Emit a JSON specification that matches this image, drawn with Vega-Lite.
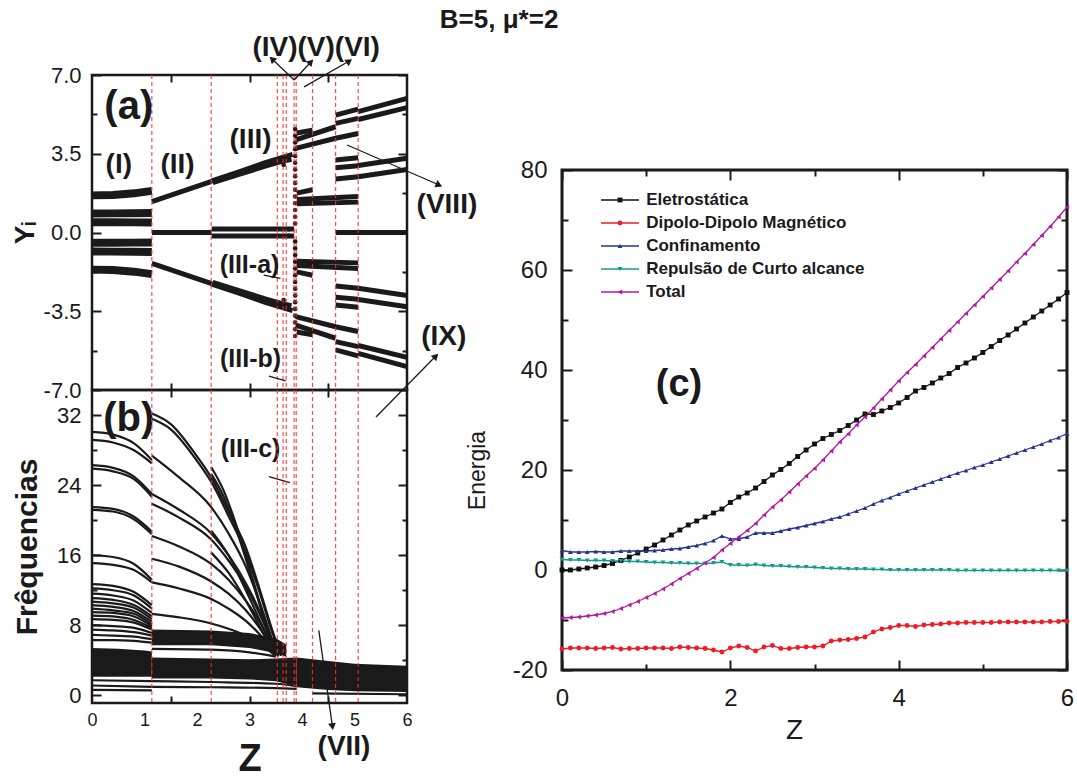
{
"$schema":"https://vega.github.io/schema/vega-lite/v6.json",
"background":"white",
"padding":{"left":9,"top":6,"right":5,"bottom":3},
"title":{"text":"B=5, μ*=2","fontSize":26,"fontWeight":"bold","font":"Liberation Sans","anchor":"start","dx":430,"offset":0,"color":"#1a1a1a"},
"config":{
 "font":"Liberation Sans",
 "view":{"stroke":"#1a1a1a","strokeWidth":2.5},
 "axis":{"domain":false,"grid":false,"labelFont":"Liberation Sans","titleFont":"Liberation Sans","labelColor":"#1a1a1a","tickColor":"#1a1a1a","titleColor":"#1a1a1a","tickWidth":2,"labelOverlap":false,"labelFlush":false}
},
"datasets":{
 "vlines":[{"z":1.14},{"z":2.27},{"z":3.53},{"z":3.64},{"z":3.7},{"z":3.85},{"z":3.89},{"z":4.2},{"z":4.64},{"z":5.07}],
 "aThick":[
  {"id":"t1","z":0,"y":1.65},{"id":"t1","z":0.4,"y":1.67},{"id":"t1","z":0.8,"y":1.74},{"id":"t1","z":1.14,"y":1.85},
  {"id":"t2","z":0,"y":0.84},{"id":"t2","z":0.4,"y":0.85},{"id":"t2","z":0.8,"y":0.86},{"id":"t2","z":1.14,"y":0.87},
  {"id":"t3","z":0,"y":0.46},{"id":"t3","z":0.4,"y":0.46},{"id":"t3","z":0.8,"y":0.45},{"id":"t3","z":1.14,"y":0.44},
  {"id":"t4","z":0,"y":-1.65},{"id":"t4","z":0.4,"y":-1.67},{"id":"t4","z":0.8,"y":-1.74},{"id":"t4","z":1.14,"y":-1.85},
  {"id":"t5","z":0,"y":-0.84},{"id":"t5","z":0.4,"y":-0.85},{"id":"t5","z":0.8,"y":-0.86},{"id":"t5","z":1.14,"y":-0.87},
  {"id":"t6","z":0,"y":-0.46},{"id":"t6","z":0.4,"y":-0.46},{"id":"t6","z":0.8,"y":-0.45},{"id":"t6","z":1.14,"y":-0.44}
 ],
 "aLine":[
  {"id":"L1","z":1.14,"y":1.37},{"id":"L1","z":2.28,"y":2.27},
  {"id":"L1m","z":1.14,"y":-1.37},{"id":"L1m","z":2.28,"y":-2.27},
  {"id":"L0","z":1.14,"y":0},{"id":"L0","z":2.28,"y":0},
  {"id":"L2","z":2.28,"y":2.3},{"id":"L2","z":2.8,"y":2.7},{"id":"L2","z":3.3,"y":3.1},{"id":"L2","z":3.6,"y":3.32},{"id":"L2","z":3.82,"y":3.47},
  {"id":"L2b","z":2.3,"y":2.22},{"id":"L2b","z":2.8,"y":2.58},{"id":"L2b","z":3.3,"y":2.95},{"id":"L2b","z":3.6,"y":3.15},{"id":"L2b","z":3.8,"y":3.25},
  {"id":"L2m","z":2.28,"y":-2.3},{"id":"L2m","z":2.8,"y":-2.7},{"id":"L2m","z":3.3,"y":-3.1},{"id":"L2m","z":3.6,"y":-3.32},{"id":"L2m","z":3.82,"y":-3.47},
  {"id":"L2bm","z":2.3,"y":-2.22},{"id":"L2bm","z":2.8,"y":-2.58},{"id":"L2bm","z":3.3,"y":-2.95},{"id":"L2bm","z":3.6,"y":-3.15},{"id":"L2bm","z":3.8,"y":-3.25},
  {"id":"L3","z":2.28,"y":0.16},{"id":"L3","z":3.85,"y":0.16},
  {"id":"L3m","z":2.28,"y":-0.16},{"id":"L3m","z":3.85,"y":-0.16},
  {"id":"B1","z":3.9,"y":4.42},{"id":"B1","z":4.2,"y":4.55},
  {"id":"B1m","z":3.9,"y":-4.42},{"id":"B1m","z":4.2,"y":-4.55},
  {"id":"B2","z":3.88,"y":4.12},{"id":"B2","z":4.64,"y":4.7},
  {"id":"B2m","z":3.88,"y":-4.12},{"id":"B2m","z":4.64,"y":-4.7},
  {"id":"B3","z":3.88,"y":3.74},{"id":"B3","z":4.64,"y":4.19},{"id":"B3","z":5.07,"y":4.4},
  {"id":"B3m","z":3.88,"y":-3.74},{"id":"B3m","z":4.64,"y":-4.19},{"id":"B3m","z":5.07,"y":-4.4},
  {"id":"B4a","z":4.64,"y":5.22},{"id":"B4a","z":5.07,"y":5.48},
  {"id":"B4am","z":4.64,"y":-5.22},{"id":"B4am","z":5.07,"y":-5.48},
  {"id":"B4b","z":4.64,"y":4.85},{"id":"B4b","z":5.07,"y":5.07},
  {"id":"B4bm","z":4.64,"y":-4.85},{"id":"B4bm","z":5.07,"y":-5.07},
  {"id":"B5a","z":5.07,"y":5.37},{"id":"B5a","z":6,"y":5.96},
  {"id":"B5am","z":5.07,"y":-5.37},{"id":"B5am","z":6,"y":-5.96},
  {"id":"B5b","z":5.07,"y":5.02},{"id":"B5b","z":6,"y":5.55},
  {"id":"B5bm","z":5.07,"y":-5.02},{"id":"B5bm","z":6,"y":-5.55},
  {"id":"B6a","z":4.64,"y":3.22},{"id":"B6a","z":5.07,"y":3.32},
  {"id":"B6am","z":4.64,"y":-3.22},{"id":"B6am","z":5.07,"y":-3.32},
  {"id":"B6b","z":4.64,"y":2.88},{"id":"B6b","z":5.07,"y":2.97},
  {"id":"B6bm","z":4.64,"y":-2.88},{"id":"B6bm","z":5.07,"y":-2.97},
  {"id":"B6c","z":4.64,"y":2.38},{"id":"B6c","z":5.07,"y":2.48},
  {"id":"B6cm","z":4.64,"y":-2.38},{"id":"B6cm","z":5.07,"y":-2.48},
  {"id":"B7a","z":5.07,"y":2.98},{"id":"B7a","z":6,"y":3.3},
  {"id":"B7am","z":5.07,"y":-2.98},{"id":"B7am","z":6,"y":-3.3},
  {"id":"B7b","z":5.07,"y":2.48},{"id":"B7b","z":6,"y":2.8},
  {"id":"B7bm","z":5.07,"y":-2.48},{"id":"B7bm","z":6,"y":-2.8},
  {"id":"B8a","z":3.9,"y":1.75},{"id":"B8a","z":4.2,"y":1.9},
  {"id":"B8am","z":3.9,"y":-1.75},{"id":"B8am","z":4.2,"y":-1.9},
  {"id":"B8b","z":3.9,"y":1.47},{"id":"B8b","z":5.07,"y":1.6},
  {"id":"B8bm","z":3.9,"y":-1.47},{"id":"B8bm","z":5.07,"y":-1.6},
  {"id":"B8c","z":3.9,"y":1.28},{"id":"B8c","z":5.07,"y":1.35},
  {"id":"B8cm","z":3.9,"y":-1.28},{"id":"B8cm","z":5.07,"y":-1.35},
  {"id":"Z0","z":4.64,"y":0},{"id":"Z0","z":6,"y":0}
 ],
 "aDots":[
  {"z":3.87,"y":4.6},{"z":3.87,"y":4.3},{"z":3.87,"y":4.0},{"z":3.87,"y":3.7},{"z":3.87,"y":3.4},{"z":3.87,"y":3.1},{"z":3.87,"y":2.8},{"z":3.87,"y":2.5},{"z":3.87,"y":2.2},{"z":3.87,"y":1.9},{"z":3.87,"y":1.6},{"z":3.87,"y":1.3},{"z":3.87,"y":1.0},{"z":3.87,"y":0.7},{"z":3.87,"y":0.4},
  {"z":3.87,"y":-4.6},{"z":3.87,"y":-4.3},{"z":3.87,"y":-4.0},{"z":3.87,"y":-3.7},{"z":3.87,"y":-3.4},{"z":3.87,"y":-3.1},{"z":3.87,"y":-2.8},{"z":3.87,"y":-2.5},{"z":3.87,"y":-2.2},{"z":3.87,"y":-1.9},{"z":3.87,"y":-1.6},{"z":3.87,"y":-1.3},{"z":3.87,"y":-1.0},{"z":3.87,"y":-0.7},{"z":3.87,"y":-0.4},
  {"z":3.6,"y":3.3},{"z":3.65,"y":3.0},{"z":3.7,"y":3.35},{"z":3.6,"y":-3.3},{"z":3.65,"y":-3.0},{"z":3.7,"y":-3.35},{"z":3.75,"y":0.15},{"z":3.75,"y":-0.15}
 ],
 "arrA":[
  {"z1":3.85,"y1":6.78,"z2":3.43,"y2":7.71},
  {"z1":3.85,"y1":6.78,"z2":4.17,"y2":7.58},
  {"z1":4.04,"y1":6.47,"z2":4.9,"y2":7.62},
  {"z1":4.86,"y1":3.89,"z2":6.61,"y2":2.11},
  {"z1":5.41,"y1":-8.2,"z2":6.55,"y2":-5.49},
  {"z1":3.27,"y1":-1.89,"z2":3.59,"y2":-2.04},
  {"z1":3.37,"y1":-6.38,"z2":3.69,"y2":-6.59}
 ],
 "aText28":[
  {"t":"(I)","z":0.51,"y":3.0},{"t":"(II)","z":1.63,"y":3.0},{"t":"(III)","z":3.02,"y":4.11},
  {"t":"(IV)(V)(VI)","z":4.27,"y":8.2},{"t":"(VIII)","z":6.76,"y":1.22},{"t":"(IX)","z":6.7,"y":-4.63}
 ],
 "aText26":[{"t":"(III-a)","z":3.0,"y":-1.44},{"t":"(III-b)","z":3.02,"y":-5.6}],
 "bBand":[
  {"id":"b1","z":0,"lo":2.1,"hi":5.4},{"id":"b1","z":0.5,"lo":2.1,"hi":5.3},{"id":"b1","z":1.0,"lo":2.1,"hi":5.1},{"id":"b1","z":1.14,"lo":2.1,"hi":5.0},
  {"id":"b2","z":1.14,"lo":5.7,"hi":7.5},{"id":"b2","z":2.27,"lo":5.7,"hi":7.4},{"id":"b2","z":3.0,"lo":5.4,"hi":7.1},{"id":"b2","z":3.5,"lo":4.8,"hi":6.5},{"id":"b2","z":3.7,"lo":4.4,"hi":5.8},
  {"id":"b3","z":1.14,"lo":1.9,"hi":4.3},{"id":"b3","z":2.27,"lo":1.9,"hi":4.2},{"id":"b3","z":3.0,"lo":1.8,"hi":4.1},{"id":"b3","z":3.5,"lo":1.6,"hi":4.2},{"id":"b3","z":3.9,"lo":1.0,"hi":4.3},
  {"id":"b4","z":3.9,"lo":0.9,"hi":4.3},{"id":"b4","z":4.5,"lo":0.6,"hi":3.9},{"id":"b4","z":5.0,"lo":0.45,"hi":3.6},{"id":"b4","z":6,"lo":0.35,"hi":3.35}
 ],
 "bLines":[
  {"id":"r1","z":0,"f":30.1},{"id":"r1","z":0.4,"f":29.8},{"id":"r1","z":0.8,"f":28.8},{"id":"r1","z":1.14,"f":26.9},
  {"id":"r2","z":0,"f":29.2},{"id":"r2","z":0.4,"f":28.9},{"id":"r2","z":0.8,"f":28.0},{"id":"r2","z":1.14,"f":26.5},
  {"id":"r3","z":0,"f":26.3},{"id":"r3","z":0.4,"f":26.0},{"id":"r3","z":0.8,"f":25.0},{"id":"r3","z":1.14,"f":23.0},
  {"id":"r4","z":0,"f":25.9},{"id":"r4","z":0.4,"f":25.6},{"id":"r4","z":0.8,"f":24.7},{"id":"r4","z":1.14,"f":22.7},
  {"id":"r5","z":0,"f":21.5},{"id":"r5","z":0.4,"f":21.3},{"id":"r5","z":0.8,"f":20.4},{"id":"r5","z":1.14,"f":18.7},
  {"id":"r5b","z":0,"f":21.2},{"id":"r5b","z":0.4,"f":21.0},{"id":"r5b","z":0.8,"f":20.1},{"id":"r5b","z":1.14,"f":18.4},
  {"id":"r6","z":0,"f":16.0},{"id":"r6","z":0.4,"f":15.8},{"id":"r6","z":0.8,"f":15.0},{"id":"r6","z":1.14,"f":13.2},
  {"id":"r7","z":0,"f":15.1},{"id":"r7","z":0.4,"f":14.9},{"id":"r7","z":0.8,"f":14.3},{"id":"r7","z":1.14,"f":12.9},
  {"id":"r8","z":0,"f":12.7},{"id":"r8","z":0.4,"f":12.5},{"id":"r8","z":0.8,"f":11.8},{"id":"r8","z":1.14,"f":10.3},
  {"id":"r9","z":0,"f":12.2},{"id":"r9","z":0.4,"f":12.0},{"id":"r9","z":0.8,"f":11.4},{"id":"r9","z":1.14,"f":9.9},
  {"id":"r10","z":0,"f":11.6},{"id":"r10","z":0.4,"f":11.4},{"id":"r10","z":0.8,"f":10.8},{"id":"r10","z":1.14,"f":9.4},
  {"id":"r11","z":0,"f":11.1},{"id":"r11","z":0.4,"f":10.9},{"id":"r11","z":0.8,"f":10.3},{"id":"r11","z":1.14,"f":9.0},
  {"id":"r12","z":0,"f":10.7},{"id":"r12","z":0.4,"f":10.5},{"id":"r12","z":0.8,"f":10.0},{"id":"r12","z":1.14,"f":8.7},
  {"id":"r13","z":0,"f":10.3},{"id":"r13","z":0.4,"f":10.1},{"id":"r13","z":0.8,"f":9.6},{"id":"r13","z":1.14,"f":8.4},
  {"id":"r14","z":0,"f":9.9},{"id":"r14","z":0.4,"f":9.7},{"id":"r14","z":0.8,"f":9.3},{"id":"r14","z":1.14,"f":8.1},
  {"id":"r15","z":0,"f":9.5},{"id":"r15","z":0.4,"f":9.4},{"id":"r15","z":0.8,"f":9.0},{"id":"r15","z":1.14,"f":7.9},
  {"id":"r16","z":0,"f":9.1},{"id":"r16","z":0.4,"f":9.0},{"id":"r16","z":0.8,"f":8.6},{"id":"r16","z":1.14,"f":7.7},
  {"id":"r17","z":0,"f":8.7},{"id":"r17","z":0.4,"f":8.6},{"id":"r17","z":0.8,"f":8.3},{"id":"r17","z":1.14,"f":7.5},
  {"id":"r18","z":0,"f":8.0},{"id":"r18","z":0.4,"f":7.9},{"id":"r18","z":0.8,"f":7.7},{"id":"r18","z":1.14,"f":7.1},
  {"id":"r19","z":0,"f":7.5},{"id":"r19","z":0.4,"f":7.4},{"id":"r19","z":0.8,"f":7.2},{"id":"r19","z":1.14,"f":6.8},
  {"id":"r20","z":0,"f":6.9},{"id":"r20","z":0.4,"f":6.8},{"id":"r20","z":0.8,"f":6.7},{"id":"r20","z":1.14,"f":6.4},
  {"id":"r21","z":0,"f":6.3},{"id":"r21","z":0.4,"f":6.3},{"id":"r21","z":0.8,"f":6.2},{"id":"r21","z":1.14,"f":6.0},
  {"id":"s1","z":1.14,"f":32.2},{"id":"s1","z":1.5,"f":31.0},{"id":"s1","z":2.0,"f":27.3},{"id":"s1","z":2.27,"f":24.9},{"id":"s1","z":2.6,"f":21.0},{"id":"s1","z":2.93,"f":16.9},{"id":"s1","z":3.2,"f":12.0},{"id":"s1","z":3.43,"f":7.5},{"id":"s1","z":3.6,"f":4.6},
  {"id":"s2","z":1.14,"f":31.6},{"id":"s2","z":1.5,"f":30.4},{"id":"s2","z":2.0,"f":26.8},{"id":"s2","z":2.27,"f":24.4},{"id":"s2","z":2.6,"f":20.5},{"id":"s2","z":2.93,"f":16.3},{"id":"s2","z":3.2,"f":11.6},{"id":"s2","z":3.43,"f":7.2},{"id":"s2","z":3.6,"f":4.5},
  {"id":"s3","z":1.14,"f":27.4},{"id":"s3","z":1.66,"f":24.9},{"id":"s3","z":2.27,"f":21.5},{"id":"s3","z":2.6,"f":18.5},{"id":"s3","z":2.93,"f":14.7},{"id":"s3","z":3.2,"f":10.5},{"id":"s3","z":3.5,"f":5.0},
  {"id":"s4","z":1.14,"f":23.0},{"id":"s4","z":1.66,"f":21.2},{"id":"s4","z":2.27,"f":18.5},{"id":"s4","z":2.6,"f":16.0},{"id":"s4","z":2.93,"f":12.8},{"id":"s4","z":3.2,"f":9.5},{"id":"s4","z":3.5,"f":5.0},
  {"id":"s5","z":1.14,"f":21.9},{"id":"s5","z":1.66,"f":20.3},{"id":"s5","z":2.27,"f":17.8},{"id":"s5","z":2.6,"f":15.4},{"id":"s5","z":2.93,"f":12.4},{"id":"s5","z":3.2,"f":9.2},{"id":"s5","z":3.5,"f":4.9},
  {"id":"s6","z":1.14,"f":18.2},{"id":"s6","z":1.66,"f":17.0},{"id":"s6","z":2.27,"f":15.0},{"id":"s6","z":2.6,"f":13.2},{"id":"s6","z":2.93,"f":10.8},{"id":"s6","z":3.2,"f":8.3},{"id":"s6","z":3.5,"f":4.8},
  {"id":"s7","z":1.14,"f":15.6},{"id":"s7","z":1.66,"f":14.7},{"id":"s7","z":2.27,"f":13.0},{"id":"s7","z":2.6,"f":11.6},{"id":"s7","z":2.93,"f":9.7},{"id":"s7","z":3.2,"f":7.6},{"id":"s7","z":3.5,"f":4.7},
  {"id":"s8","z":1.14,"f":12.9},{"id":"s8","z":1.66,"f":12.2},{"id":"s8","z":2.27,"f":11.0},{"id":"s8","z":2.6,"f":9.9},{"id":"s8","z":2.93,"f":8.5},{"id":"s8","z":3.2,"f":6.9},{"id":"s8","z":3.5,"f":4.6},
  {"id":"s9","z":1.14,"f":9.3},{"id":"s9","z":1.66,"f":8.9},{"id":"s9","z":2.27,"f":8.2},{"id":"s9","z":2.6,"f":7.6},{"id":"s9","z":2.93,"f":6.8},{"id":"s9","z":3.2,"f":5.8},{"id":"s9","z":3.5,"f":4.5},
  {"id":"u1","z":2.27,"f":26.1},{"id":"u1","z":2.5,"f":23.5},{"id":"u1","z":2.8,"f":18.5},{"id":"u1","z":3.1,"f":12.5},{"id":"u1","z":3.35,"f":7.5},{"id":"u1","z":3.55,"f":4.5},
  {"id":"u2","z":2.27,"f":25.3},{"id":"u2","z":2.5,"f":22.8},{"id":"u2","z":2.8,"f":18.0},{"id":"u2","z":3.1,"f":12.2},{"id":"u2","z":3.35,"f":7.3},{"id":"u2","z":3.55,"f":4.4},
  {"id":"u3","z":2.27,"f":18.8},{"id":"u3","z":2.6,"f":16.0},{"id":"u3","z":2.93,"f":12.0},{"id":"u3","z":3.2,"f":8.5},{"id":"u3","z":3.5,"f":4.6},
  {"id":"u4","z":2.27,"f":16.3},{"id":"u4","z":2.6,"f":14.0},{"id":"u4","z":2.93,"f":10.8},{"id":"u4","z":3.2,"f":7.8},{"id":"u4","z":3.5,"f":4.5},
  {"id":"w1","z":0,"f":1.7},{"id":"w1","z":1.14,"f":1.6},{"id":"w1","z":2.27,"f":1.5},{"id":"w1","z":3.5,"f":1.3},{"id":"w1","z":3.9,"f":1.0},
  {"id":"w2","z":0,"f":1.1},{"id":"w2","z":1.14,"f":0.95},{"id":"w2","z":2.27,"f":0.9},{"id":"w2","z":3.5,"f":0.8},{"id":"w2","z":3.9,"f":0.7},
  {"id":"w3","z":0,"f":0.6},{"id":"w3","z":1.14,"f":0.55},
  {"id":"w4","z":4.2,"f":0.2},{"id":"w4","z":6,"f":0.1},
  {"id":"x1","z":1.14,"f":5.3},{"id":"x1","z":2.27,"f":5.2},{"id":"x1","z":3.0,"f":4.9},{"id":"x1","z":3.5,"f":4.4}
 ],
 "arrB":[{"z1":4.32,"y1":7.4,"z2":4.58,"y2":-3.6},{"z1":3.37,"y1":25.0,"z2":3.77,"y2":24.3}],
 "serieNames":[{"k":"E","serie":"Eletrostática"},{"k":"D","serie":"Dipolo-Dipolo Magnético"},{"k":"C","serie":"Confinamento"},{"k":"R","serie":"Repulsão de Curto alcance"},{"k":"T","serie":"Total"}],
 "energy":[
  {"z":0.0,"E":0.0,"D":-15.8,"C":3.9,"R":2.1,"T":-9.6},
  {"z":0.1,"E":0.0,"D":-15.6,"C":3.6,"R":2.0,"T":-9.5},
  {"z":0.2,"E":0.2,"D":-15.6,"C":3.6,"R":2.0,"T":-9.4},
  {"z":0.3,"E":0.4,"D":-15.6,"C":3.6,"R":1.9,"T":-9.2},
  {"z":0.4,"E":0.6,"D":-15.7,"C":3.7,"R":1.9,"T":-9.0},
  {"z":0.5,"E":0.9,"D":-15.6,"C":3.6,"R":1.9,"T":-8.7},
  {"z":0.6,"E":1.3,"D":-15.5,"C":3.6,"R":1.8,"T":-8.3},
  {"z":0.7,"E":1.9,"D":-15.8,"C":3.8,"R":1.8,"T":-7.7},
  {"z":0.8,"E":2.6,"D":-15.7,"C":3.8,"R":1.7,"T":-7.0},
  {"z":0.9,"E":3.4,"D":-15.7,"C":3.8,"R":1.7,"T":-6.3},
  {"z":1.0,"E":4.2,"D":-15.6,"C":3.8,"R":1.6,"T":-5.5},
  {"z":1.1,"E":5.0,"D":-15.6,"C":3.9,"R":1.5,"T":-4.7},
  {"z":1.2,"E":6.0,"D":-15.6,"C":4.0,"R":1.5,"T":-3.8},
  {"z":1.3,"E":7.0,"D":-15.7,"C":4.2,"R":1.4,"T":-2.8},
  {"z":1.4,"E":8.0,"D":-15.4,"C":4.3,"R":1.4,"T":-1.7},
  {"z":1.5,"E":9.0,"D":-15.5,"C":4.6,"R":1.3,"T":-0.7},
  {"z":1.6,"E":9.8,"D":-15.6,"C":4.9,"R":1.3,"T":0.3},
  {"z":1.7,"E":10.6,"D":-15.7,"C":5.3,"R":1.3,"T":1.4},
  {"z":1.8,"E":11.4,"D":-16.0,"C":5.9,"R":1.4,"T":2.5},
  {"z":1.9,"E":12.2,"D":-16.4,"C":6.8,"R":1.6,"T":4.0},
  {"z":2.0,"E":13.5,"D":-15.6,"C":6.2,"R":1.0,"T":5.3},
  {"z":2.1,"E":14.6,"D":-15.2,"C":6.2,"R":1.0,"T":6.6},
  {"z":2.2,"E":15.4,"D":-15.5,"C":6.6,"R":0.9,"T":7.9},
  {"z":2.3,"E":16.4,"D":-16.2,"C":7.4,"R":1.1,"T":9.3},
  {"z":2.4,"E":17.7,"D":-15.4,"C":7.4,"R":0.9,"T":11.0},
  {"z":2.5,"E":19.0,"D":-15.1,"C":7.4,"R":0.8,"T":12.6},
  {"z":2.6,"E":20.1,"D":-15.7,"C":7.8,"R":0.8,"T":14.0},
  {"z":2.7,"E":21.3,"D":-15.7,"C":8.2,"R":0.7,"T":15.6},
  {"z":2.8,"E":22.7,"D":-15.5,"C":8.5,"R":0.6,"T":17.2},
  {"z":2.9,"E":24.0,"D":-15.4,"C":8.9,"R":0.6,"T":18.8},
  {"z":3.0,"E":25.2,"D":-15.4,"C":9.3,"R":0.5,"T":20.3},
  {"z":3.1,"E":26.3,"D":-15.2,"C":9.7,"R":0.4,"T":22.0},
  {"z":3.2,"E":27.1,"D":-14.2,"C":10.2,"R":0.3,"T":23.8},
  {"z":3.3,"E":27.9,"D":-14.0,"C":10.6,"R":0.3,"T":25.6},
  {"z":3.4,"E":28.9,"D":-13.9,"C":11.2,"R":0.2,"T":27.2},
  {"z":3.5,"E":30.0,"D":-13.7,"C":11.8,"R":0.2,"T":29.0},
  {"z":3.6,"E":31.2,"D":-13.4,"C":12.4,"R":0.2,"T":30.6},
  {"z":3.7,"E":31.1,"D":-12.4,"C":13.2,"R":0.1,"T":32.4},
  {"z":3.8,"E":31.8,"D":-11.8,"C":13.9,"R":0.1,"T":34.2},
  {"z":3.9,"E":32.5,"D":-11.5,"C":14.5,"R":0.0,"T":36.0},
  {"z":4.0,"E":33.4,"D":-11.1,"C":15.2,"R":0.0,"T":37.8},
  {"z":4.1,"E":34.5,"D":-11.1,"C":15.8,"R":0.0,"T":39.5},
  {"z":4.2,"E":35.8,"D":-11.3,"C":16.4,"R":0.0,"T":41.1},
  {"z":4.3,"E":36.5,"D":-11.0,"C":17.0,"R":0.0,"T":42.8},
  {"z":4.4,"E":37.4,"D":-10.9,"C":17.6,"R":0.0,"T":44.5},
  {"z":4.5,"E":38.4,"D":-10.8,"C":18.2,"R":0.0,"T":46.2},
  {"z":4.6,"E":39.3,"D":-10.6,"C":18.8,"R":0.0,"T":47.9},
  {"z":4.7,"E":40.5,"D":-10.6,"C":19.4,"R":-0.1,"T":49.6},
  {"z":4.8,"E":41.4,"D":-10.5,"C":19.9,"R":-0.1,"T":51.3},
  {"z":4.9,"E":42.4,"D":-10.5,"C":20.5,"R":-0.1,"T":53.0},
  {"z":5.0,"E":43.5,"D":-10.5,"C":21.0,"R":-0.1,"T":54.7},
  {"z":5.1,"E":44.7,"D":-10.5,"C":21.6,"R":-0.1,"T":56.4},
  {"z":5.2,"E":45.9,"D":-10.4,"C":22.2,"R":-0.1,"T":58.1},
  {"z":5.3,"E":47.0,"D":-10.4,"C":22.8,"R":-0.1,"T":59.8},
  {"z":5.4,"E":48.2,"D":-10.4,"C":23.4,"R":-0.1,"T":61.6},
  {"z":5.5,"E":49.4,"D":-10.4,"C":24.0,"R":-0.1,"T":63.3},
  {"z":5.6,"E":50.6,"D":-10.4,"C":24.6,"R":-0.1,"T":65.1},
  {"z":5.7,"E":51.8,"D":-10.4,"C":25.2,"R":-0.1,"T":66.9},
  {"z":5.8,"E":53.0,"D":-10.3,"C":25.9,"R":-0.1,"T":68.7},
  {"z":5.9,"E":54.2,"D":-10.3,"C":26.5,"R":-0.1,"T":70.6},
  {"z":6.0,"E":55.5,"D":-10.3,"C":27.3,"R":-0.1,"T":72.6}
 ]
},
"bounds":"flush",
"spacing":470,
"hconcat":[
 {"spacing":0,"bounds":"flush","vconcat":[
  {"width":315,"height":315,
   "layer":[
    {"data":{"name":"aThick"},"mark":{"type":"line","strokeWidth":8,"color":"#1a1a1a","strokeCap":"butt"},
     "encoding":{
      "x":{"field":"z","type":"quantitative","scale":{"domain":[0,6],"nice":false,"zero":false},"axis":{"orient":"bottom","values":[1.5,3,4.5],"labels":false,"tickSize":-7,"title":null}},
      "y":{"field":"y","type":"quantitative","scale":{"domain":[-7,7],"nice":false,"zero":false},"axis":{"orient":"left","values":[-7,-5.25,-3.5,-1.75,0,1.75,3.5,5.25,7],"format":".1f","labelExpr":"abs(datum.value) % 3.5 == 0 ? replace(datum.label, '−', '-') : ''","tickSize":{"condition":{"test":"abs(datum.value) % 3.5 == 0","value":-9},"value":-5},"labelPadding":20,"labelFontSize":22,"title":"Yᵢ","titleFontSize":28,"titleFontWeight":"bold","titlePadding":4}},
      "detail":{"field":"id"}}},
    {"data":{"name":"aLine"},"mark":{"type":"line","strokeWidth":5,"color":"#1a1a1a","strokeCap":"butt"},
     "encoding":{
      "x":{"field":"z","type":"quantitative","scale":{"domain":[0,6],"nice":false,"zero":false},"axis":{"orient":"top","values":[1.5,3,4.5],"labels":false,"tickSize":-7,"title":null}},
      "y":{"field":"y","type":"quantitative","scale":{"domain":[-7,7],"nice":false,"zero":false},"axis":{"orient":"right","values":[-7,-5.25,-3.5,-1.75,0,1.75,3.5,5.25,7],"labels":false,"tickSize":{"condition":{"test":"abs(datum.value) % 3.5 == 0","value":-9},"value":-5},"title":null}},
      "detail":{"field":"id"}}},
    {"data":{"name":"aDots"},"mark":{"type":"point","filled":true,"size":22,"color":"#1a1a1a","opacity":1},
     "encoding":{
      "x":{"field":"z","type":"quantitative","scale":{"domain":[0,6],"nice":false,"zero":false},"axis":null},
      "y":{"field":"y","type":"quantitative","scale":{"domain":[-7,7],"nice":false,"zero":false},"axis":null}}},
    {"data":{"name":"vlines"},"mark":{"type":"rule","color":"#ff2a2a","strokeDash":[4,3],"strokeWidth":1.2,"opacity":0.85},
     "encoding":{"x":{"field":"z","type":"quantitative","scale":{"domain":[0,6],"nice":false,"zero":false},"axis":null}}},
    {"data":{"name":"arrA"},"mark":{"type":"rule","color":"#1a1a1a","strokeWidth":1.3},
     "encoding":{
      "x":{"field":"z1","type":"quantitative","scale":{"domain":[0,6],"nice":false,"zero":false},"axis":null},
      "y":{"field":"y1","type":"quantitative","scale":{"domain":[-7,7],"nice":false,"zero":false},"axis":null},
      "x2":{"field":"z2"},"y2":{"field":"y2"}}},
    {"data":{"values":[{"z":3.43,"y":7.71}]},"mark":{"type":"point","shape":"triangle-up","filled":true,"size":60,"color":"#1a1a1a","opacity":1,"angle":314},
     "encoding":{"x":{"field":"z","type":"quantitative","scale":{"domain":[0,6],"nice":false,"zero":false},"axis":null},"y":{"field":"y","type":"quantitative","scale":{"domain":[-7,7],"nice":false,"zero":false},"axis":null}}},
    {"data":{"values":[{"z":4.17,"y":7.58}]},"mark":{"type":"point","shape":"triangle-up","filled":true,"size":60,"color":"#1a1a1a","opacity":1,"angle":43},
     "encoding":{"x":{"field":"z","type":"quantitative","scale":{"domain":[0,6],"nice":false,"zero":false},"axis":null},"y":{"field":"y","type":"quantitative","scale":{"domain":[-7,7],"nice":false,"zero":false},"axis":null}}},
    {"data":{"values":[{"z":4.9,"y":7.62}]},"mark":{"type":"point","shape":"triangle-up","filled":true,"size":60,"color":"#1a1a1a","opacity":1,"angle":55},
     "encoding":{"x":{"field":"z","type":"quantitative","scale":{"domain":[0,6],"nice":false,"zero":false},"axis":null},"y":{"field":"y","type":"quantitative","scale":{"domain":[-7,7],"nice":false,"zero":false},"axis":null}}},
    {"data":{"values":[{"z":6.61,"y":2.11}]},"mark":{"type":"point","shape":"triangle-up","filled":true,"size":60,"color":"#1a1a1a","opacity":1,"angle":114},
     "encoding":{"x":{"field":"z","type":"quantitative","scale":{"domain":[0,6],"nice":false,"zero":false},"axis":null},"y":{"field":"y","type":"quantitative","scale":{"domain":[-7,7],"nice":false,"zero":false},"axis":null}}},
    {"data":{"values":[{"z":6.55,"y":-5.49}]},"mark":{"type":"point","shape":"triangle-up","filled":true,"size":60,"color":"#1a1a1a","opacity":1,"angle":45},
     "encoding":{"x":{"field":"z","type":"quantitative","scale":{"domain":[0,6],"nice":false,"zero":false},"axis":null},"y":{"field":"y","type":"quantitative","scale":{"domain":[-7,7],"nice":false,"zero":false},"axis":null}}},
    {"data":{"values":[{"t":"(a)","z":0.7,"y":5.6}]},"mark":{"type":"text","fontSize":40,"fontWeight":"bold","color":"#1a1a1a","font":"Liberation Sans"},
     "encoding":{"x":{"field":"z","type":"quantitative","scale":{"domain":[0,6],"nice":false,"zero":false},"axis":null},"y":{"field":"y","type":"quantitative","scale":{"domain":[-7,7],"nice":false,"zero":false},"axis":null},"text":{"field":"t"}}},
    {"data":{"name":"aText28"},"mark":{"type":"text","fontSize":28,"fontWeight":"bold","color":"#1a1a1a","font":"Liberation Sans"},
     "encoding":{"x":{"field":"z","type":"quantitative","scale":{"domain":[0,6],"nice":false,"zero":false},"axis":null},"y":{"field":"y","type":"quantitative","scale":{"domain":[-7,7],"nice":false,"zero":false},"axis":null},"text":{"field":"t"}}},
    {"data":{"name":"aText26"},"mark":{"type":"text","fontSize":25,"fontWeight":"bold","color":"#1a1a1a","font":"Liberation Sans"},
     "encoding":{"x":{"field":"z","type":"quantitative","scale":{"domain":[0,6],"nice":false,"zero":false},"axis":null},"y":{"field":"y","type":"quantitative","scale":{"domain":[-7,7],"nice":false,"zero":false},"axis":null},"text":{"field":"t"}}}
   ],
   "resolve":{"axis":{"x":"independent","y":"independent"}}
  },
  {"width":315,"height":313,
   "layer":[
    {"data":{"name":"bBand"},"mark":{"type":"area","color":"#1a1a1a","opacity":1},
     "encoding":{
      "x":{"field":"z","type":"quantitative","scale":{"domain":[0,6],"nice":false,"zero":false},"axis":{"orient":"bottom","values":[0,1,1.5,2,3,4,4.5,5,6],"format":".0f","labelExpr":"datum.value % 1 == 0 ? datum.label : ''","tickOpacity":{"condition":{"test":"datum.value % 1.5 == 0 && datum.value > 0 && datum.value < 6","value":1},"value":0},"tickSize":-7,"labelPadding":15,"labelFontSize":18,"title":"Z","titleFontSize":38,"titleFontWeight":"bold","titlePadding":11}},
      "y":{"field":"hi","type":"quantitative","scale":{"domain":[-0.9,34.9],"nice":false,"zero":false},"axis":{"orient":"left","values":[0,4,8,12,16,20,24,28,32],"labelExpr":"datum.value % 8 == 0 ? datum.label : ''","tickSize":{"condition":{"test":"datum.value % 8 == 0","value":-9},"value":-5},"labelPadding":20,"labelFontSize":22,"title":"Frêquencias","titleFontSize":30,"titleFontWeight":"bold","titlePadding":14}},
      "y2":{"field":"lo"},
      "detail":{"field":"id"}}},
    {"data":{"name":"bLines"},"mark":{"type":"line","strokeWidth":2.2,"color":"#1a1a1a","interpolate":"monotone"},
     "encoding":{
      "x":{"field":"z","type":"quantitative","scale":{"domain":[0,6],"nice":false,"zero":false},"axis":{"orient":"top","values":[1.5,3,4.5],"labels":false,"tickSize":-7,"title":null}},
      "y":{"field":"f","type":"quantitative","scale":{"domain":[-0.9,34.9],"nice":false,"zero":false},"axis":{"orient":"right","values":[0,4,8,12,16,20,24,28,32],"labels":false,"tickSize":{"condition":{"test":"datum.value % 8 == 0","value":-9},"value":-5},"title":null}},
      "detail":{"field":"id"}}},
    {"data":{"name":"arrB"},"mark":{"type":"rule","color":"#1a1a1a","strokeWidth":1.3},
     "encoding":{
      "x":{"field":"z1","type":"quantitative","scale":{"domain":[0,6],"nice":false,"zero":false},"axis":null},
      "y":{"field":"y1","type":"quantitative","scale":{"domain":[-0.9,34.9],"nice":false,"zero":false},"axis":null},
      "x2":{"field":"z2"},"y2":{"field":"y2"}}},
    {"data":{"values":[{"z":4.58,"y":-3.6}]},"mark":{"type":"point","shape":"triangle-up","filled":true,"size":60,"color":"#1a1a1a","opacity":1,"angle":172},
     "encoding":{"x":{"field":"z","type":"quantitative","scale":{"domain":[0,6],"nice":false,"zero":false},"axis":null},"y":{"field":"y","type":"quantitative","scale":{"domain":[-0.9,34.9],"nice":false,"zero":false},"axis":null}}},
    {"data":{"values":[{"t":"(b)","z":0.7,"y":31.6}]},"mark":{"type":"text","fontSize":40,"fontWeight":"bold","color":"#1a1a1a","font":"Liberation Sans"},
     "encoding":{"x":{"field":"z","type":"quantitative","scale":{"domain":[0,6],"nice":false,"zero":false},"axis":null},"y":{"field":"y","type":"quantitative","scale":{"domain":[-0.9,34.9],"nice":false,"zero":false},"axis":null},"text":{"field":"t"}}},
    {"data":{"values":[{"t":"(III-c)","z":3.02,"y":28.2}]},"mark":{"type":"text","fontSize":25,"fontWeight":"bold","color":"#1a1a1a","font":"Liberation Sans"},
     "encoding":{"x":{"field":"z","type":"quantitative","scale":{"domain":[0,6],"nice":false,"zero":false},"axis":null},"y":{"field":"y","type":"quantitative","scale":{"domain":[-0.9,34.9],"nice":false,"zero":false},"axis":null},"text":{"field":"t"}}},
    {"data":{"values":[{"t":"(VII)","z":4.8,"y":-5.9}]},"mark":{"type":"text","fontSize":28,"fontWeight":"bold","color":"#1a1a1a","font":"Liberation Sans"},
     "encoding":{"x":{"field":"z","type":"quantitative","scale":{"domain":[0,6],"nice":false,"zero":false},"axis":null},"y":{"field":"y","type":"quantitative","scale":{"domain":[-0.9,34.9],"nice":false,"zero":false},"axis":null},"text":{"field":"t"}}},
    {"data":{"name":"vlines"},"mark":{"type":"rule","color":"#ff2a2a","strokeDash":[4,3],"strokeWidth":1.2,"opacity":0.85},
     "encoding":{"x":{"field":"z","type":"quantitative","scale":{"domain":[0,6],"nice":false,"zero":false},"axis":null}}}
   ],
   "resolve":{"axis":{"x":"independent","y":"independent"}}
  }
 ]},
 {"spacing":0,"bounds":"flush","vconcat":[
  {"width":505,"height":95,"view":{"stroke":null},"data":{"values":[{"a":1}]},"mark":{"type":"point","opacity":0},"encoding":{}},
  {"width":505,"height":500,
   "view":{"strokeWidth":3},
   "layer":[
    {"data":{"name":"energy"},
     "transform":[{"fold":["E","D","C","R","T"],"as":["k","v"]},{"lookup":"k","from":{"data":{"name":"serieNames"},"key":"k","fields":["serie"]}}],
     "mark":{"type":"line","strokeWidth":1.3},
     "encoding":{
      "x":{"field":"z","type":"quantitative","scale":{"domain":[0,6],"nice":false,"zero":false},"axis":{"orient":"bottom","values":[0,1,2,3,4,5,6],"labelExpr":"datum.value % 2 == 0 ? datum.label : ''","tickSize":{"condition":{"test":"datum.value % 2 == 0","value":-10},"value":-6},"labelPadding":26,"labelFontSize":24,"title":"Z","titleFontSize":28,"titleFontWeight":"normal","titleX":232,"titleY":60,"titleBaseline":"middle"}},
      "y":{"field":"v","type":"quantitative","scale":{"domain":[-20,80],"nice":false,"zero":false},"axis":{"orient":"left","values":[-20,-10,0,10,20,30,40,50,60,70,80],"labelExpr":"datum.value % 20 == 0 ? replace(datum.label, '−', '-') : ''","tickSize":{"condition":{"test":"datum.value % 20 == 0","value":-10},"value":-6},"labelPadding":25,"labelFontSize":24,"title":"Energia","titleFontSize":23,"titleFontWeight":"normal","titleX":-85,"titleY":300,"titleBaseline":"middle"}},
      "color":{"field":"serie","type":"nominal","scale":{"domain":["Eletrostática","Dipolo-Dipolo Magnético","Confinamento","Repulsão de Curto alcance","Total"],"range":["#111111","#ee1c25","#26338f","#139a8c","#b5179e"]},"legend":null}}},
    {"data":{"name":"energy"},
     "transform":[{"fold":["E","D","C","R","T"],"as":["k","v"]},{"lookup":"k","from":{"data":{"name":"serieNames"},"key":"k","fields":["serie"]}}],
     "mark":{"type":"point","filled":true,"size":24,"opacity":1},
     "encoding":{
      "x":{"field":"z","type":"quantitative","scale":{"domain":[0,6],"nice":false,"zero":false},"axis":{"orient":"top","values":[0,1,2,3,4,5,6],"labels":false,"tickSize":{"condition":{"test":"datum.value % 2 == 0","value":-10},"value":-6},"title":null}},
      "y":{"field":"v","type":"quantitative","scale":{"domain":[-20,80],"nice":false,"zero":false},"axis":{"orient":"right","values":[-20,-10,0,10,20,30,40,50,60,70,80],"labels":false,"tickSize":{"condition":{"test":"datum.value % 20 == 0","value":-10},"value":-6},"title":null}},
      "color":{"field":"serie","type":"nominal","scale":{"domain":["Eletrostática","Dipolo-Dipolo Magnético","Confinamento","Repulsão de Curto alcance","Total"],"range":["#111111","#ee1c25","#26338f","#139a8c","#b5179e"]},"legend":null},
      "shape":{"field":"serie","type":"nominal","scale":{"domain":["Eletrostática","Dipolo-Dipolo Magnético","Confinamento","Repulsão de Curto alcance","Total"],"range":["square","circle","triangle-up","triangle-down","triangle-left"]},"legend":null}}},
    {"data":{"name":"serieNames"},
     "mark":{"type":"rule","strokeWidth":1.3},
     "encoding":{
      "x":{"datum":0.463,"type":"quantitative","scale":{"domain":[0,6],"nice":false,"zero":false},"axis":null},
      "x2":{"datum":0.915},
      "y":{"field":"serie","type":"nominal","scale":{"type":"point","domain":["Eletrostática","Dipolo-Dipolo Magnético","Confinamento","Repulsão de Curto alcance","Total"],"range":[30,122],"padding":0},"axis":null},
      "color":{"field":"serie","type":"nominal","scale":{"domain":["Eletrostática","Dipolo-Dipolo Magnético","Confinamento","Repulsão de Curto alcance","Total"],"range":["#111111","#ee1c25","#26338f","#139a8c","#b5179e"]},"legend":null}}},
    {"data":{"name":"serieNames"},
     "mark":{"type":"point","filled":true,"size":24,"opacity":1},
     "encoding":{
      "x":{"datum":0.689,"type":"quantitative","scale":{"domain":[0,6],"nice":false,"zero":false},"axis":null},
      "y":{"field":"serie","type":"nominal","scale":{"type":"point","domain":["Eletrostática","Dipolo-Dipolo Magnético","Confinamento","Repulsão de Curto alcance","Total"],"range":[30,122],"padding":0},"axis":null},
      "color":{"field":"serie","type":"nominal","scale":{"domain":["Eletrostática","Dipolo-Dipolo Magnético","Confinamento","Repulsão de Curto alcance","Total"],"range":["#111111","#ee1c25","#26338f","#139a8c","#b5179e"]},"legend":null},
      "shape":{"field":"serie","type":"nominal","scale":{"domain":["Eletrostática","Dipolo-Dipolo Magnético","Confinamento","Repulsão de Curto alcance","Total"],"range":["square","circle","triangle-up","triangle-down","triangle-left"]},"legend":null}}},
    {"data":{"name":"serieNames"},
     "mark":{"type":"text","fontSize":17,"fontWeight":"bold","color":"#1a1a1a","align":"left","baseline":"middle","font":"Liberation Sans"},
     "encoding":{
      "x":{"datum":1.0,"type":"quantitative","scale":{"domain":[0,6],"nice":false,"zero":false},"axis":null},
      "y":{"field":"serie","type":"nominal","scale":{"type":"point","domain":["Eletrostática","Dipolo-Dipolo Magnético","Confinamento","Repulsão de Curto alcance","Total"],"range":[30,122],"padding":0},"axis":null},
      "text":{"field":"serie"}}},
    {"data":{"values":[{"t":"(c)","z":1.39,"v":37.1}]},"mark":{"type":"text","fontSize":38,"fontWeight":"bold","color":"#1a1a1a","font":"Liberation Sans"},
     "encoding":{"x":{"field":"z","type":"quantitative","scale":{"domain":[0,6],"nice":false,"zero":false},"axis":null},"y":{"field":"v","type":"quantitative","scale":{"domain":[-20,80],"nice":false,"zero":false},"axis":null},"text":{"field":"t"}}}
   ],
   "resolve":{"axis":{"x":"independent","y":"independent"},"scale":{"y":"independent"}}
  }
 ]}
]
}
